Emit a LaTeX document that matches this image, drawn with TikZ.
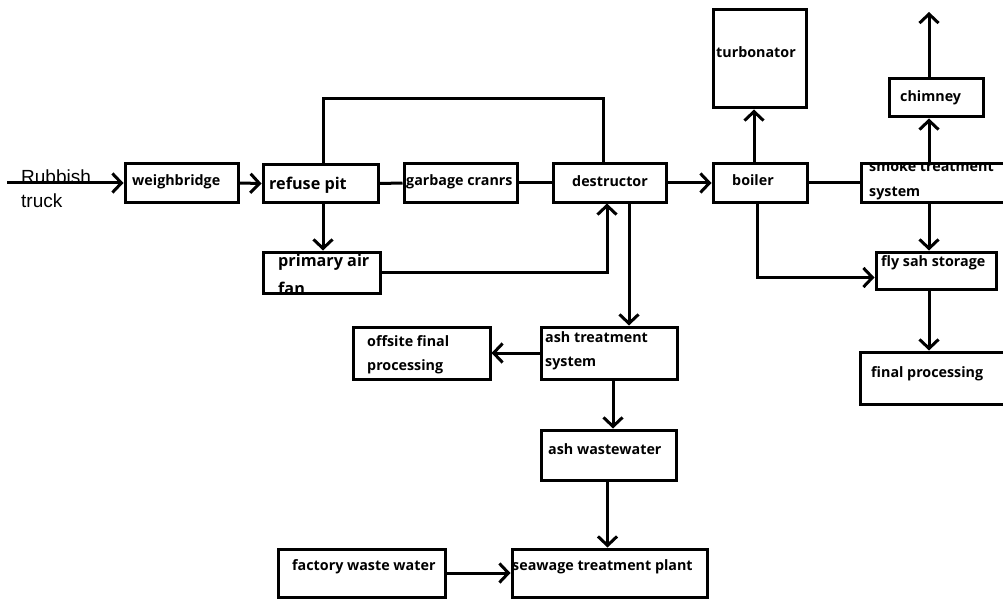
\documentclass[tikz,border=0pt]{standalone}
\usepackage{fontspec}
\setmainfont{Open Sans}
\newfontfamily\arialf{Liberation Sans}
\usetikzlibrary{arrows.meta,fit}
\tikzset{
  box/.style={draw, line width=3pt, inner sep=0pt, rectangle},
  lbl/.style={font=\bfseries\fontsize{14.3}{16}\selectfont, anchor=west, inner sep=0pt},
  lblb/.style={font=\bfseries\fontsize{16.2}{18}\selectfont, anchor=west, inner sep=0pt},
  conn/.style={line width=3pt},
  arr/.style={conn, -{Straight Barb[length=9pt,width=19pt,line width=3pt]}},
}
\begin{document}
\begin{tikzpicture}[x=1pt,y=-1pt]
\useasboundingbox (0,0) rectangle (1003,604);
% labels
\node[font=\arialf\fontsize{19}{21}\selectfont, anchor=west, inner sep=0pt] (rubt1) at (21,177) {Rubbish};
\node[font=\arialf\fontsize{19}{21}\selectfont, anchor=west, inner sep=0pt] (rubt2) at (21,201) {truck};
\node[lbl] (wbt) at (132,182) {weighbridge};
\node[lblb] (rpt) at (269,185) {refuse pit};
\node[lblb] (paft1) at (278,262) {primary air};
\node[lblb] (paft2) at (278,288) {fan};
\node[lbl] (gct) at (406,182) {garbage cranrs};
\node[lbl] (dst) at (572,181) {destructor};
\node[lbl] (tbt) at (716,52) {turbonator};
\node[lbl] (bot) at (732,180) {boiler};
\node[lbl] (cht) at (900,98) {chimney};
\begin{scope}
\clip (861,164) rectangle (1003,202);
\node[lbl] (smt1) at (869,166) {smoke treatment};
\end{scope}
\node[lbl] (smt2) at (869,193) {system};
\node[lbl] (flyt) at (881,263) {fly sah storage};
\node[lbl] (fpt) at (871,374) {final processing};
\node[lbl] (offt1) at (367,341) {offsite final};
\node[lbl] (offt2) at (367,367) {processing};
\node[lbl] (atst1) at (545,337) {ash treatment};
\node[lbl] (atst2) at (545,363) {system};
\node[lbl] (awwt) at (548,449) {ash wastewater};
\node[lbl] (stpt) at (512,567) {seawage treatment plant};
\node[lbl] (fwwt) at (292,567) {factory waste water};
% boxes
\node[box, fit={(125,164)(238,202)}] (wb) {};
\node[box, fit={(263,165)(378,202)}] (rp) {};
\node[box, fit={(263,252)(380,293)}] (paf) {};
\node[box, fit={(404,164)(517,202)}] (gc) {};
\node[box, fit={(553,164)(666,202)}] (ds) {};
\node[box, fit={(713,10)(806,108)}] (tb) {};
\node[box, fit={(713,164)(807,202)}] (bo) {};
\node[box, fit={(889,79)(983,117)}] (ch) {};
\node[box, fit={(861,164)(1012,202)}] (sm) {};
\node[box, fit={(876,252)(996,289)}] (fly) {};
\node[box, fit={(860,352)(1012,404)}] (fp) {};
\node[box, fit={(353,327)(490,379)}] (off) {};
\node[box, fit={(541,327)(677,379)}] (ats) {};
\node[box, fit={(541,430)(676,480)}] (aww) {};
\node[box, fit={(512,549)(707,597)}] (stp) {};
\node[box, fit={(278,549)(445,597)}] (fww) {};
% free ends
\coordinate (rt) at (7,183);
\coordinate (ctop) at (929,12);
% connectors
\draw[arr] (rt) -- (wb.west |- rt);
\draw[arr] (wb.east) -- (rp.west);
\draw[conn] (rp.east) -- (gc.west);
\draw[conn] (gc.east) -- (ds.west);
\draw[arr] (ds.east) -- (bo.west);
\draw[conn] (bo.east) -- (sm.west |- bo.east);
\draw[conn] ([xshift=2.5pt]rp.north) -- ++(0,-65) -| ([xshift=-6.5pt]ds.north);
\draw[arr] ([xshift=2.5pt]rp.south) -- ([xshift=2.5pt]rp.south |- paf.north);
\draw[arr] (paf.east) -| ([xshift=-2.5pt]ds.south);
\draw[arr] ([xshift=19.5pt]ds.south) -- ([xshift=19.5pt]ds.south |- ats.north);
\draw[arr] (ats.west) -- (off.east);
\draw[arr] ([xshift=4pt]ats.south) -- ([xshift=4pt]ats.south |- aww.north);
\draw[arr] ([xshift=-1pt]aww.south) -- ([xshift=-1pt]aww.south |- stp.north);
\draw[arr] (fww.east) -- (stp.west);
\draw[arr] ([xshift=-6pt]bo.north) -- ([xshift=-6pt]bo.north |- tb.south);
\draw[arr] ([xshift=-3pt]bo.south) |- ([yshift=-7pt]fly.west);
\draw[arr] (sm.north -| ctop) -- (ch.south -| ctop);
\draw[arr] (ch.north -| ctop) -- (ctop);
\draw[arr] (sm.south -| ctop) -- (fly.north -| ctop);
\draw[arr] (fly.south -| ctop) -- (fp.north -| ctop);
\end{tikzpicture}
\end{document}
